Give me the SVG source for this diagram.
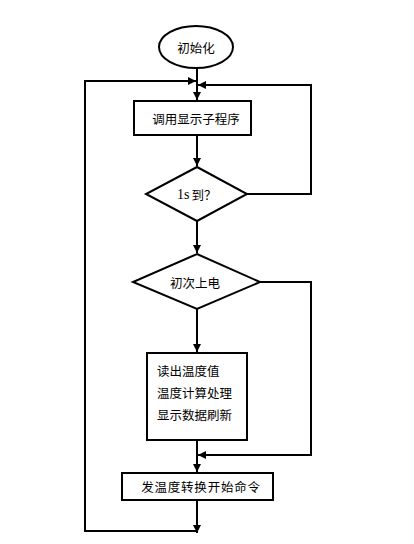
<svg xmlns="http://www.w3.org/2000/svg" width="414" height="544" viewBox="0 0 414 544">
<style>
.shape{fill:#fff;stroke:#000;stroke-width:2}
.conn{fill:none;stroke:#000;stroke-width:2}
text{font-family:"Noto Sans CJK SC","Liberation Sans",sans-serif;font-size:12.5px;fill:#000;dominant-baseline:central}
.c{text-anchor:middle}
</style>
<defs>
<marker id="arr" markerUnits="userSpaceOnUse" markerWidth="9" markerHeight="8" refX="8" refY="4" orient="auto">
<path d="M0,0 L8,4 L0,8 z" fill="#000"/>
</marker>
</defs>
<rect width="414" height="544" fill="#fff"/>
<g id="connectors">
<path class="conn" d="M197,68 V100" marker-end="url(#arr)"/>
<path class="conn" d="M197,135 V166" marker-end="url(#arr)"/>
<path class="conn" d="M197,221 V253" marker-end="url(#arr)"/>
<path class="conn" d="M197,309 V352" marker-end="url(#arr)"/>
<path class="conn" d="M197,440 V472" marker-end="url(#arr)"/>
<path class="conn" d="M197,500 V533" marker-end="url(#arr)"/>
<path class="conn" d="M247,194 H311 V85 H198" marker-end="url(#arr)"/>
<path class="conn" d="M260,282 H311 V455 H198" marker-end="url(#arr)"/>
<path class="conn" d="M197,531 H85 V81 H196" marker-end="url(#arr)"/>
</g>
<g id="start">
<ellipse class="shape" cx="196" cy="47" rx="37" ry="21"/>
<text class="c" x="196" y="47">初始化</text>
</g>
<g id="call-display">
<rect class="shape" x="134" y="101" width="117" height="34"/>
<text class="c" x="196" y="118">调用显示子程序</text>
</g>
<g id="check-1s">
<polygon class="shape" points="197,167 247,194 197,221 146,194"/>
<text x="177" y="194"><tspan font-family="Liberation Serif, serif" font-size="14px">1s</tspan><tspan dx="2">到？</tspan></text>
</g>
<g id="first-power">
<polygon class="shape" points="197,254 260,282 197,309 133,282"/>
<text class="c" x="195" y="282">初次上电</text>
</g>
<g id="process">
<rect class="shape" x="147" y="353" width="100" height="87"/>
<text x="157" y="370">读出温度值</text>
<text x="157" y="392">温度计算处理</text>
<text x="157" y="414">显示数据刷新</text>
</g>
<g id="start-convert">
<rect class="shape" x="122" y="473" width="151" height="27"/>
<text class="c" x="201" y="486" letter-spacing="0.8">发温度转换开始命令</text>
</g>
</svg>
